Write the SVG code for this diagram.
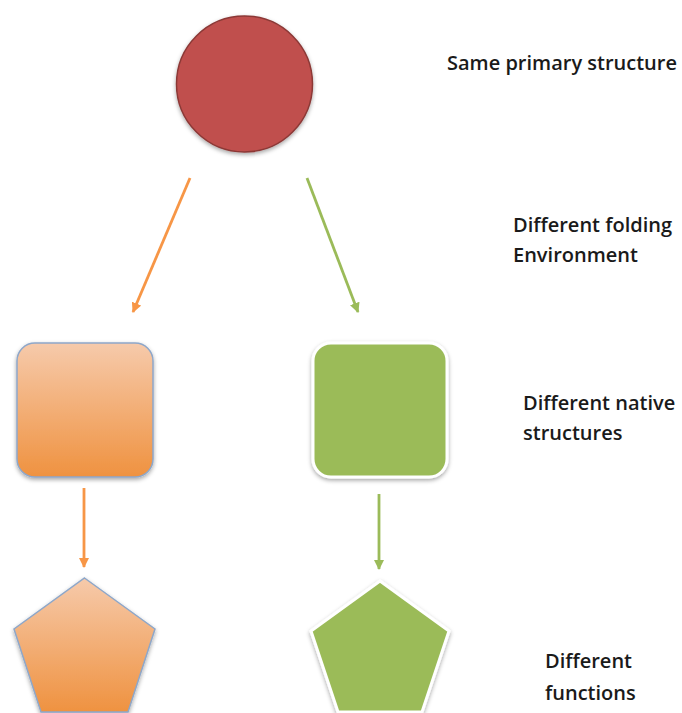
<svg xmlns="http://www.w3.org/2000/svg" width="682" height="713" viewBox="0 0 682 713">
<defs>
<style>
.lbl{font-family:"Open Sans","Liberation Sans",sans-serif;font-size:20px;font-weight:600;fill:#1a1a1a;}
.ar-o{stroke:#F79646;stroke-width:2.8;fill:none;}
.ar-g{stroke:#9BBB59;stroke-width:2.8;fill:none;}
</style>
<linearGradient id="og" x1="0" y1="0" x2="0" y2="1">
<stop offset="0" stop-color="#F6CAAB"/>
<stop offset="1" stop-color="#EF9240"/>
</linearGradient>
<filter id="sh" x="-20%" y="-20%" width="140%" height="140%">
<feDropShadow dx="0" dy="2" stdDeviation="2" flood-color="#000" flood-opacity="0.35"/>
</filter>
<marker id="mo" viewBox="0 0 10 10" refX="9" refY="5" markerWidth="3.6" markerHeight="3.6" orient="auto" markerUnits="strokeWidth">
<path d="M0,0 L10,5 L0,10 Z" fill="#F79646"/>
</marker>
<marker id="mg" viewBox="0 0 10 10" refX="9" refY="5" markerWidth="3.6" markerHeight="3.6" orient="auto" markerUnits="strokeWidth">
<path d="M0,0 L10,5 L0,10 Z" fill="#9BBB59"/>
</marker>
</defs>
<rect width="682" height="713" fill="#fff"/>
<g id="connectors">
<line class="ar-o" x1="190" y1="178" x2="133" y2="312" marker-end="url(#mo)"/>
<line class="ar-g" x1="307" y1="178" x2="358" y2="312" marker-end="url(#mg)"/>
<line class="ar-o" x1="84" y1="488" x2="84" y2="567" marker-end="url(#mo)"/>
<line class="ar-g" x1="379" y1="494" x2="379" y2="569" marker-end="url(#mg)"/>
</g>
<g id="n-circle">
<circle cx="244.5" cy="84" r="68" fill="#C0504D" stroke="#8C3836" stroke-width="1.5" filter="url(#sh)"/>
</g>
<g id="n-orange-square">
<rect x="17" y="343" width="136" height="134" rx="18" fill="url(#og)" stroke="#8EA7C9" stroke-width="1.5" filter="url(#sh)"/>
</g>
<g id="n-green-square">
<rect x="313" y="343" width="134" height="134" rx="18" fill="#9BBB59" stroke="#fff" stroke-width="3" filter="url(#sh)"/>
</g>
<g id="n-orange-pentagon">
<polygon points="84.5,578 155,629 128,712 41,712 14,629" fill="url(#og)" stroke="#8EA7C9" stroke-width="1.5" filter="url(#sh)"/>
</g>
<g id="n-green-pentagon">
<polygon points="380,581 449,631 422,712 338,712 311,631" fill="#9BBB59" stroke="#fff" stroke-width="3" filter="url(#sh)"/>
</g>
<g id="labels">
<text class="lbl" x="447" y="70">Same primary structure</text>
<text class="lbl" x="513" y="232">Different folding</text>
<text class="lbl" x="513" y="262">Environment</text>
<text class="lbl" x="523" y="410">Different native</text>
<text class="lbl" x="523" y="440">structures</text>
<text class="lbl" x="545" y="668">Different</text>
<text class="lbl" x="545" y="700">functions</text>
</g>
</svg>
